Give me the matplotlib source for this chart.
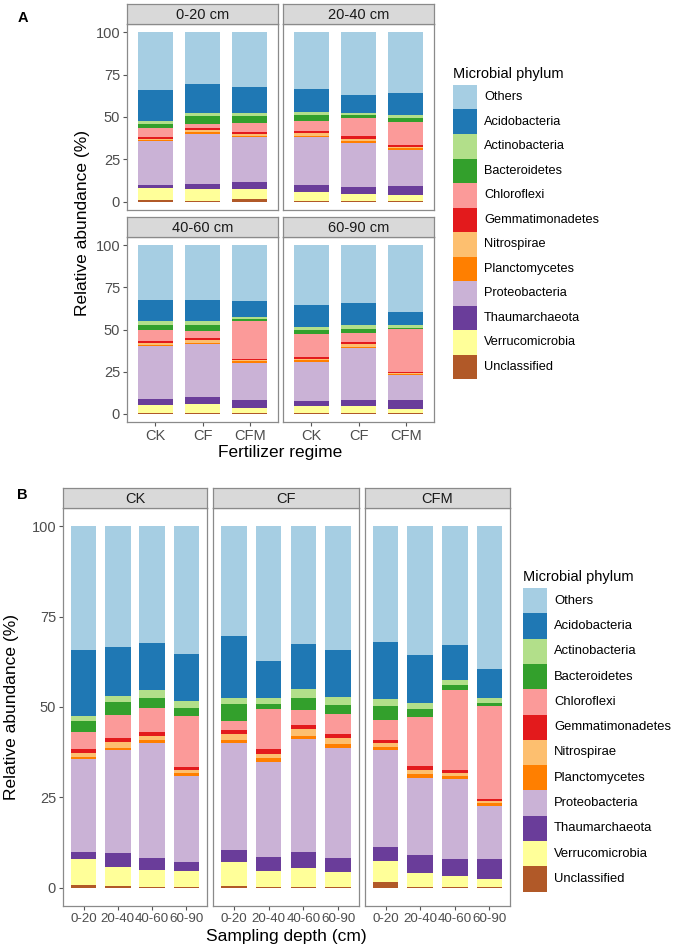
import matplotlib
matplotlib.use('Agg')
import matplotlib.pyplot as plt
from matplotlib.patches import Rectangle
import numpy as np

plt.rcParams['font.family'] = ['Liberation Sans', 'DejaVu Sans']

W, H = 680, 948

# legend order (top of stack first)
phyla = ['Others', 'Acidobacteria', 'Actinobacteria', 'Bacteroidetes', 'Chloroflexi',
         'Gemmatimonadetes', 'Nitrospirae', 'Planctomycetes', 'Proteobacteria',
         'Thaumarchaeota', 'Verrucomicrobia', 'Unclassified']
colors = ['#A6CEE3', '#1F78B4', '#B2DF8A', '#33A02C', '#FB9A99', '#E31A1C',
          '#FDBF6F', '#FF7F00', '#CAB2D6', '#6A3D9A', '#FFFF99', '#B15928']

regimes = ['CK', 'CF', 'CFM']
depths = ['0-20', '20-40', '40-60', '60-90']

# relative abundance (%), rows = regime (CK, CF, CFM), columns = depth
others = [[34.2, 33.4, 32.3, 35.4], [30.3, 37.2, 32.7, 34.3], [32.1, 35.7, 33.0, 39.5]]
acidobacteria = [[18.4, 13.5, 12.9, 12.9], [17.1, 10.2, 12.3, 12.9], [15.8, 13.3, 9.4, 8.1]]
actinobacteria = [[1.4, 1.7, 2.3, 2.0], [1.9, 1.7, 2.5, 2.3], [1.8, 1.5, 1.4, 1.4]]
bacteroidetes = [[2.8, 3.6, 2.8, 2.2], [4.7, 1.4, 3.2, 2.4], [3.9, 2.2, 1.4, 0.6]]
chloroflexi = [[4.9, 6.3, 6.6, 14.0], [2.4, 11.0, 4.2, 5.7], [5.5, 13.6, 22.1, 25.8]]
gemmatimonadetes = [[1.1, 1.2, 1.0, 0.8], [1.1, 1.4, 1.3, 0.9], [0.8, 1.2, 0.9, 0.6]]
nitrospirae = [[1.0, 1.6, 1.1, 0.9], [1.5, 1.3, 1.8, 1.8], [1.2, 1.1, 0.8, 0.6]]
planctomycetes = [[0.5, 0.6, 0.9, 0.9], [1.0, 1.0, 0.9, 0.9], [0.8, 1.1, 1.0, 0.7]]
proteobacteria = [[25.9, 28.5, 31.7, 23.7], [29.6, 26.2, 31.2, 30.5], [26.7, 21.3, 21.9, 14.8]]
thaumarchaeota = [[1.7, 3.7, 3.4, 2.5], [3.2, 3.9, 4.3, 3.9], [3.9, 4.9, 4.8, 5.3]]
verrucomicrobia = [[7.4, 5.4, 4.7, 4.4], [6.7, 4.4, 5.3, 4.2], [5.8, 3.8, 3.1, 2.4]]
unclassified = [[0.7, 0.5, 0.3, 0.3], [0.5, 0.3, 0.3, 0.2], [1.7, 0.3, 0.2, 0.2]]

values = np.array([others, acidobacteria, actinobacteria, bacteroidetes, chloroflexi,
                   gemmatimonadetes, nitrospirae, planctomycetes, proteobacteria,
                   thaumarchaeota, verrucomicrobia, unclassified])

BORDER = '#8a8a8a'
TICKCOL = '#4d4d4d'


def fx(x):
    return x / W


def fy(y):
    return 1 - y / H


def add_box(fig, l, t, r, b):
    return fig.add_axes([fx(l), fy(b), fx(r) - fx(l), (b - t) / H])


def panel(fig, l, t, r, b, strip_h, title, data, labels, show_y, show_x, xsize):
    ax = add_box(fig, l, t, r, b)
    x = np.arange(1, len(labels) + 1)
    bottom = np.zeros(len(labels))
    # stack from the bottom: Unclassified first
    for i in range(len(phyla) - 1, -1, -1):
        ax.bar(x, data[i], bottom=bottom, width=0.74, color=colors[i], linewidth=0)
        bottom += data[i]
    ax.set_xlim(0.4, len(labels) + 0.6)
    ax.set_ylim(-5, 105)
    for s in ax.spines.values():
        s.set_color(BORDER)
        s.set_linewidth(0.9)
    ax.tick_params(length=3, width=0.8, color='#555555', labelcolor=TICKCOL,
                   labelsize=10.5, pad=2)
    ax.tick_params(axis='x', labelsize=xsize)
    ax.set_yticks([0, 25, 50, 75, 100])
    if not show_y:
        ax.tick_params(axis='y', left=False, labelleft=False)
    ax.set_xticks(x)
    if show_x:
        ax.set_xticklabels(labels)
    else:
        ax.tick_params(axis='x', bottom=False, labelbottom=False)

    sax = add_box(fig, l, t - strip_h, r, t)
    sax.set_facecolor('#D9D9D9')
    sax.set_xticks([])
    sax.set_yticks([])
    for s in sax.spines.values():
        s.set_color(BORDER)
        s.set_linewidth(0.9)
    sax.text(0.5, 0.45, title, ha='center', va='center', fontsize=10.5,
             color='#1a1a1a', transform=sax.transAxes)
    return ax


def legend(fig, left, top, key_h, size):
    fig.text(fx(left), fy(top - 11), 'Microbial phylum', fontsize=10.5,
             ha='left', va='center', color='black')
    for i, name in enumerate(phyla):
        y0 = top + i * key_h
        fig.patches.append(Rectangle((fx(left), fy(y0 + key_h)), 24 / W, key_h / H,
                                     facecolor=colors[i], edgecolor='none',
                                     transform=fig.transFigure, figure=fig))
        fig.text(fx(left + 31), fy(y0 + key_h / 2), name, fontsize=size,
                 ha='left', va='center', color='black')


fig = plt.figure(figsize=(W / 100, H / 100), dpi=100)

# ---- panel A: facets by depth, x = fertilizer regime
a_cols = [(127, 278), (283, 434)]
a_rows = [(24, 210), (237, 422)]
for k, d in enumerate(depths):
    (l, r) = a_cols[k % 2]
    (t, b) = a_rows[k // 2]
    panel(fig, l, t, r, b, 20, d + ' cm', values[:, :, k], regimes,
          show_y=(k % 2 == 0), show_x=(k // 2 == 1), xsize=10.5)

fig.text(fx(82), fy(223), 'Relative abundance (%)', rotation=90, fontsize=12.5,
         ha='center', va='center')
fig.text(fx(280.5), fy(453), 'Fertilizer regime', fontsize=12.5, ha='center', va='center')
fig.text(fx(23), fy(18), 'A', fontsize=10.5, fontweight='bold', ha='center', va='center')
legend(fig, 453, 85, 24.5, 9.2)

# ---- panel B: facets by regime, x = sampling depth
b_cols = [(63, 207), (213, 359), (365, 510)]
for k, reg in enumerate(regimes):
    (l, r) = b_cols[k]
    panel(fig, l, 508, r, 906, 20, reg, values[:, k, :], depths,
          show_y=(k == 0), show_x=True, xsize=9.6)

fig.text(fx(12), fy(707), 'Relative abundance (%)', rotation=90, fontsize=12.5,
         ha='center', va='center')
fig.text(fx(286), fy(936), 'Sampling depth (cm)', fontsize=12.5, ha='center', va='center')
fig.text(fx(22), fy(495), 'B', fontsize=10.5, fontweight='bold', ha='center', va='center')
legend(fig, 523, 588, 25.3, 9.4)

fig.savefig('out.png', dpi=100)
